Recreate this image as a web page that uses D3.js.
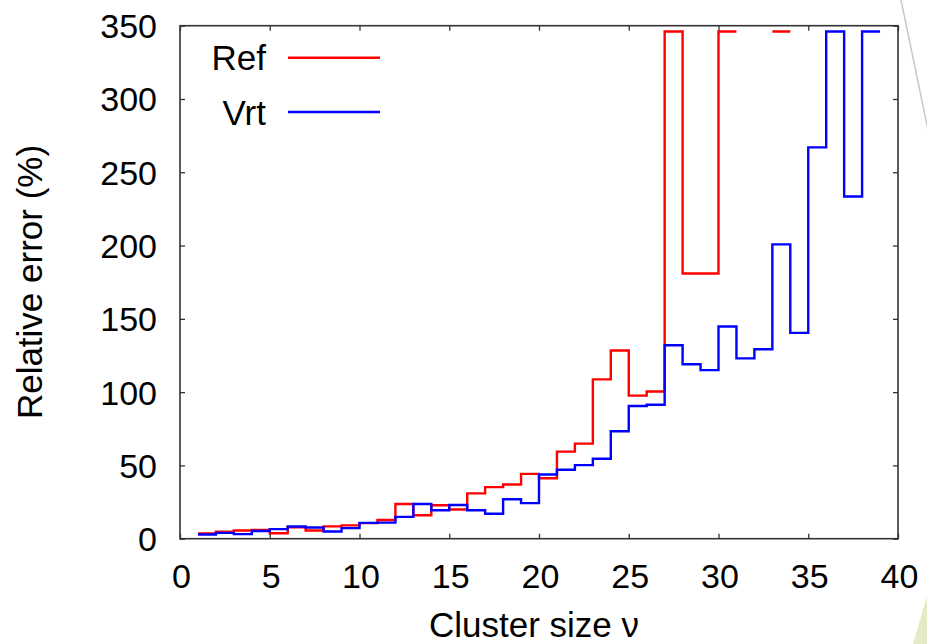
<!DOCTYPE html>
<html>
<head>
<meta charset="utf-8">
<script src="https://cdn.jsdelivr.net/npm/d3@7"></script>
<style>
  html, body { margin: 0; padding: 0; background: #fff; }
  svg { display: block; }
  text { font-family: "Liberation Sans", Arial, Helvetica, sans-serif; fill: #000; }
</style>
</head>
<body>
<svg id="chart" width="927" height="644"></svg>
<script>
// ---- data ----
const clusterSizes = d3.range(1, 39); // 1..38
const refValues = [3.6, 4.7, 5.6, 6.0, 3.7, 7.8, 5.6, 8.4, 9.1, 10.6,
                   12.8, 23.7, 16.0, 22.8, 19.9, 30.9, 35.2, 37.0, 44.2, 41.2,
                   59.4, 64.9, 108.7, 128.4, 97.6, 100.4, 346, 180.9, 180.9, 346,
                   null, null, 346, null, null, null, null, null];
const vrtValues = [2.9, 4.0, 3.1, 5.3, 6.5, 8.3, 7.6, 4.9, 7.2, 10.8,
                   11.0, 14.9, 23.7, 19.4, 23.0, 19.4, 17.0, 26.9, 24.3, 43.8,
                   47.0, 50.2, 54.5, 73.3, 90.5, 91.4, 132.0, 119.0, 115.0, 144.8,
                   123.0, 129.3, 200.8, 140.4, 267.0, 346, 233.5, 346];
const seriesNames = ["Ref", "Vrt"];
const seriesColors = ["#ff0000", "#0000ff"];
const xTicks = [0, 5, 10, 15, 20, 25, 30, 35, 40];
const yTicks = [0, 50, 100, 150, 200, 250, 300, 350];
const xTitle = "Cluster size \u03BD";
const yTitle = "Relative error (%)";

// ---- layout ----
const svg = d3.select("#chart");
const L = 180, R = 898, T = 25.7, B = 538.7;
const x = d3.scaleLinear().domain([0, 40]).range([L, R]);
const y = d3.scaleLinear().domain([0, 350]).range([B, T]);
const FS = 34;
const FT = 35;

// decorations (slide artefacts)
svg.append("line").attr("x1", 901).attr("y1", 0).attr("x2", 928).attr("y2", 130)
  .attr("stroke", "#c8c8c8").attr("stroke-width", 1.5);
svg.append("polygon").attr("points", "927,596 927,644 913,644")
  .attr("fill", "#e2ebc4");

// series as histogram steps
function stepPoints(vals) {
  const pts = [];
  vals.forEach((v, i) => {
    const n = clusterSizes[i];
    pts.push([n, v]);
    pts.push([n + 1, v]);
  });
  return pts;
}
const line = d3.line()
  .defined(d => d[1] !== null)
  .x(d => x(d[0])).y(d => y(d[1]));

const allSeries = [refValues, vrtValues];
allSeries.forEach((vals, k) => {
  svg.append("path")
    .attr("d", line(stepPoints(vals)))
    .attr("fill", "none")
    .attr("stroke", seriesColors[k])
    .attr("stroke-width", 2.4)
    .attr("stroke-linejoin", "miter");
});

// axes (ticks inward, mirrored)
const tickLen = 5;
const axStroke = "#333";
const gB = svg.append("g").attr("transform", `translate(0,${B})`)
  .call(d3.axisBottom(x).tickValues(xTicks).tickSize(-tickLen).tickFormat(""));
const gT = svg.append("g").attr("transform", `translate(0,${T})`)
  .call(d3.axisTop(x).tickValues(xTicks).tickSize(-tickLen).tickFormat(""));
const gL = svg.append("g").attr("transform", `translate(${L},0)`)
  .call(d3.axisLeft(y).tickValues(yTicks).tickSize(-tickLen).tickFormat(""));
const gR = svg.append("g").attr("transform", `translate(${R},0)`)
  .call(d3.axisRight(y).tickValues(yTicks).tickSize(-tickLen).tickFormat(""));
[gB, gT, gL, gR].forEach(g => {
  g.select(".domain").remove();
  g.selectAll(".tick line").attr("stroke", axStroke).attr("stroke-width", 1.3);
});
svg.append("rect").attr("x", L).attr("y", T).attr("width", R - L).attr("height", B - T)
  .attr("fill", "none").attr("stroke", axStroke).attr("stroke-width", 1.6);

// tick labels
svg.append("g").selectAll("text").data(xTicks).join("text")
  .attr("x", d => x(d) + 1.5).attr("y", 588)
  .attr("text-anchor", "middle").attr("font-size", FS)
  .text(d => d);
svg.append("g").selectAll("text").data(yTicks).join("text")
  .attr("x", 157).attr("y", d => y(d) + 12.5)
  .attr("text-anchor", "end").attr("font-size", FS)
  .text(d => d);

// titles
svg.append("text").attr("x", 534).attr("y", 637)
  .attr("text-anchor", "middle").attr("font-size", FT).text(xTitle);
svg.append("text").attr("transform", "translate(42,282) rotate(-90)")
  .attr("text-anchor", "middle").attr("font-size", FT).text(yTitle);

// legend
const legY = [57.7, 112];
seriesNames.forEach((name, k) => {
  svg.append("text").attr("x", 266).attr("y", legY[k] + 12.5)
    .attr("text-anchor", "end").attr("font-size", FT).text(name);
  svg.append("line").attr("x1", 288).attr("x2", 380)
    .attr("y1", legY[k]).attr("y2", legY[k])
    .attr("stroke", seriesColors[k]).attr("stroke-width", 2.4);
});
</script>
</body>
</html>
